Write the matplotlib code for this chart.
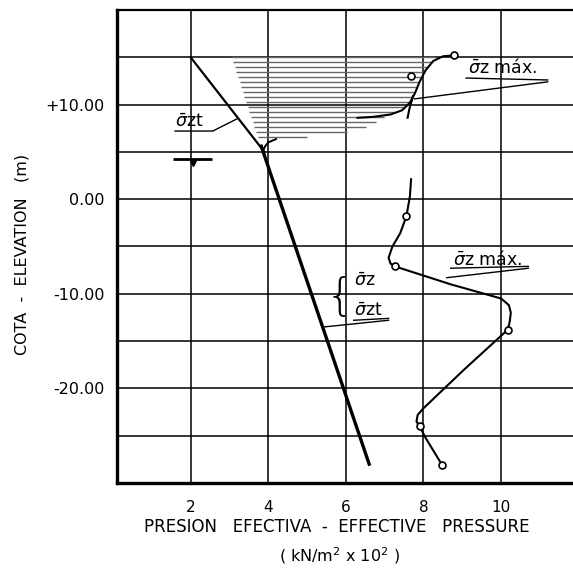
import matplotlib.pyplot as plt
import numpy as np

# sigma_zt line above the water table
szt_y = [15.0, 5.0]
szt_x = [2.0, 3.9]

# sigma_z = sigma_zt thick line below
sz_y = [5.6, -28.0]
sz_x = [3.82, 6.6]

# hook at the junction
hook_y = [5.1, 5.6, 6.0, 6.35]
hook_x = [3.86, 3.92, 4.0, 4.2]

# upper sigma_z max curve
up_y = [15.2, 15.1, 14.6, 13.6, 12.4, 11.2, 10.2, 9.4, 8.95, 8.7, 8.6]
up_x = [8.79, 8.5, 8.25, 8.05, 7.9, 7.78, 7.65, 7.45, 7.15, 6.7, 6.3]
up_branch_y = [8.6, 9.6, 10.9]
up_branch_x = [7.59, 7.64, 7.73]
up_pts_y = [15.2, 13.0]
up_pts_x = [8.79, 7.67]

# hatched zone boundaries
hatch_top, hatch_bot = 15.0, 6.2
rb_y = [6.2, 6.7, 7.2, 7.8, 8.3, 8.7, 9.0, 9.5, 10.2, 11.2, 12.4, 13.6, 15.0]
rb_x = [4.3, 5.4, 6.3, 6.65, 6.85, 7.0, 7.2, 7.45, 7.65, 7.78, 7.9, 8.05, 8.3]
lb_y = [6.2, 15.0]
lb_x = [3.75, 3.05]

# lower sigma_z max curve
low_y = [2.1, 0.3, -1.8, -3.6, -5.0, -6.2, -6.8, -7.1, -9.0, -10.5, -11.2, -12.0,
         -13.0, -13.8, -18.0, -22.1, -22.8, -23.5, -24.0, -25.2, -28.1]
low_x = [7.68, 7.65, 7.56, 7.40, 7.20, 7.10, 7.15, 7.26, 8.7, 10.0, 10.2, 10.25,
         10.22, 10.17, 9.05, 8.0, 7.85, 7.82, 7.9, 8.05, 8.48]
low_pts_y = [-1.8, -7.06, -13.8, -24.0, -28.1]
low_pts_x = [7.56, 7.26, 10.17, 7.9, 8.48]

xticks = [2, 4, 6, 8, 10]
yticks = [10, 0, -10, -20]
ytick_labels = ['+10.00', '0.00', '-10.00', '-20.00']

fig = plt.figure(figsize=(5.73, 5.72), dpi=100)
ax = fig.add_axes([0.204, 0.1556, 0.806, 0.827])
ax.set_xlim(0.1, 12)
ax.set_ylim(-30, 20)

ax.set_xticks(np.arange(2, 12, 2))
ax.set_yticks(np.arange(-25, 20, 5))
ax.grid(True, color='black', lw=1.1)
ax.set_yticklabels([ytick_labels[yticks.index(v)] if v in yticks else '' for v in range(-25, 20, 5)],
                   fontsize=11.5)
ax.set_xticklabels([str(v) for v in xticks], fontsize=11)
ax.tick_params(axis='y', length=0, pad=9)
ax.tick_params(axis='x', length=0, pad=12)
for side in ['left', 'bottom']:
    ax.spines[side].set_linewidth(2.4)
ax.spines['top'].set_linewidth(1.6)
ax.spines['right'].set_visible(False)

# hatching
for yh in np.arange(hatch_top, hatch_bot, -0.53):
    xl = np.interp(yh, lb_y, lb_x)
    xr = np.interp(yh, rb_y, rb_x)
    ax.hlines(yh, xl, xr, color='#666666', lw=1.0)

ax.plot(szt_x, szt_y, color='black', lw=1.6)
ax.plot(sz_x, sz_y, color='black', lw=2.4)
ax.plot(hook_x, hook_y, color='black', lw=1.4)
ax.plot(up_x, up_y, color='black', lw=1.5)
ax.plot(up_branch_x, up_branch_y, color='black', lw=1.5)
ax.plot(up_pts_x, up_pts_y, 'o', ms=5, mfc='white', mec='black', mew=1.2)
ax.plot(low_x, low_y, color='black', lw=1.5)
ax.plot(low_pts_x, low_pts_y, 'o', ms=5, mfc='white', mec='black', mew=1.2)

# water table mark
ax.hlines(4.2, 1.55, 2.55, color='black', lw=2)
ax.plot([2.05], [3.85], 'v', ms=4, color='black')

# labels with leaders
ax.text(1.6, 7.6, r'$\bar{\sigma}$zt', fontsize=12.5)
ax.plot([1.6, 2.57, 3.2], [7.2, 7.2, 8.5], color='black', lw=1)

ax.text(9.15, 13.3, r'$\bar{\sigma}$z máx.', fontsize=12.5)
ax.plot([9.1, 11.2], [12.8, 12.6], color='black', lw=1)
ax.plot([11.2, 7.77], [12.4, 10.6], color='black', lw=1)

ax.text(8.75, -7.0, r'$\bar{\sigma}$z máx.', fontsize=12.5)
ax.plot([8.7, 10.7], [-7.3, -7.1], color='black', lw=1)
ax.plot([10.7, 8.6], [-7.3, -8.3], color='black', lw=1)

ax.text(6.2, -10.4, '{', fontsize=32, va='center', ha='right', fontweight='light')
ax.text(6.22, -9.2, r'$\bar{\sigma}$z', fontsize=12.5)
ax.text(6.22, -12.3, r'$\bar{\sigma}$zt', fontsize=12.5)
ax.plot([6.2, 7.1], [-12.8, -12.6], color='black', lw=1)
ax.plot([7.1, 5.45], [-12.8, -13.5], color='black', lw=1)

fig.text(0.038, 0.555, 'COTA  -  ELEVATION   (m)', rotation=90, fontsize=11.5,
         ha='center', va='center')
fig.text(0.588, 0.078, 'PRESION   EFECTIVA  -  EFFECTIVE   PRESSURE', fontsize=12,
         ha='center', va='center')
fig.text(0.593, 0.028, r'( kN/m$^2$ x 10$^2$ )', fontsize=11.5, ha='center', va='center')

fig.savefig('out.png', dpi=100)
